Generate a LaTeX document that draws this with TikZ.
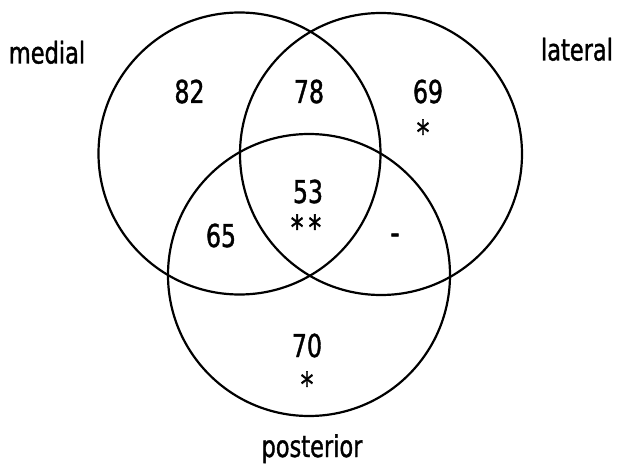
\documentclass[tikz,border=0pt]{standalone}
\usepackage{fontspec}
\setmainfont[FakeStretch=0.75,FakeBold=1.2]{DejaVu Sans}
\begin{document}
\begin{tikzpicture}[x=1pt,y=-1pt,
  setc/.style={circle,draw,line width=2.2pt,minimum size=282pt,inner sep=0pt,outer sep=0pt},
  lab/.style={font=\fontsize{30}{31}\selectfont,inner sep=0pt,anchor=base},
  num/.style={font=\fontsize{31.5}{32}\selectfont,inner sep=0pt,anchor=base},
  sig/.style={font=\fontsize{34}{35}\selectfont,inner sep=0pt,anchor=center}]
\useasboundingbox (0,0) rectangle (627,468);
\node[setc] (M) at (239.5,153.5) {};
\node[setc] (L) at (381,154) {};
\node[setc] (P) at (309,275) {};
\node[lab] (tm) at (47,63.5) {medial};
\node[lab] (tl) at (577,60.5) {lateral};
\node[lab] (tp) at (312,457) {posterior};
\node[num] (n82) at (189.5,103) {82};
\node[num] (n78) at (309,103) {78};
\node[num] (n69) at (428,103) {69};
\node[sig] (s69) at (423,132) {*};
\node[num] (n53) at (308,203) {53};
\node[sig] (s53) at (306,227) {*\kern5pt*};
\node[num] (n65) at (221,247) {65};
\node[sig] (dash1) at (395,239) {-};
\node[num] (n70) at (307,357) {70};
\node[sig] (s70) at (307,384) {*};
\end{tikzpicture}
\end{document}
